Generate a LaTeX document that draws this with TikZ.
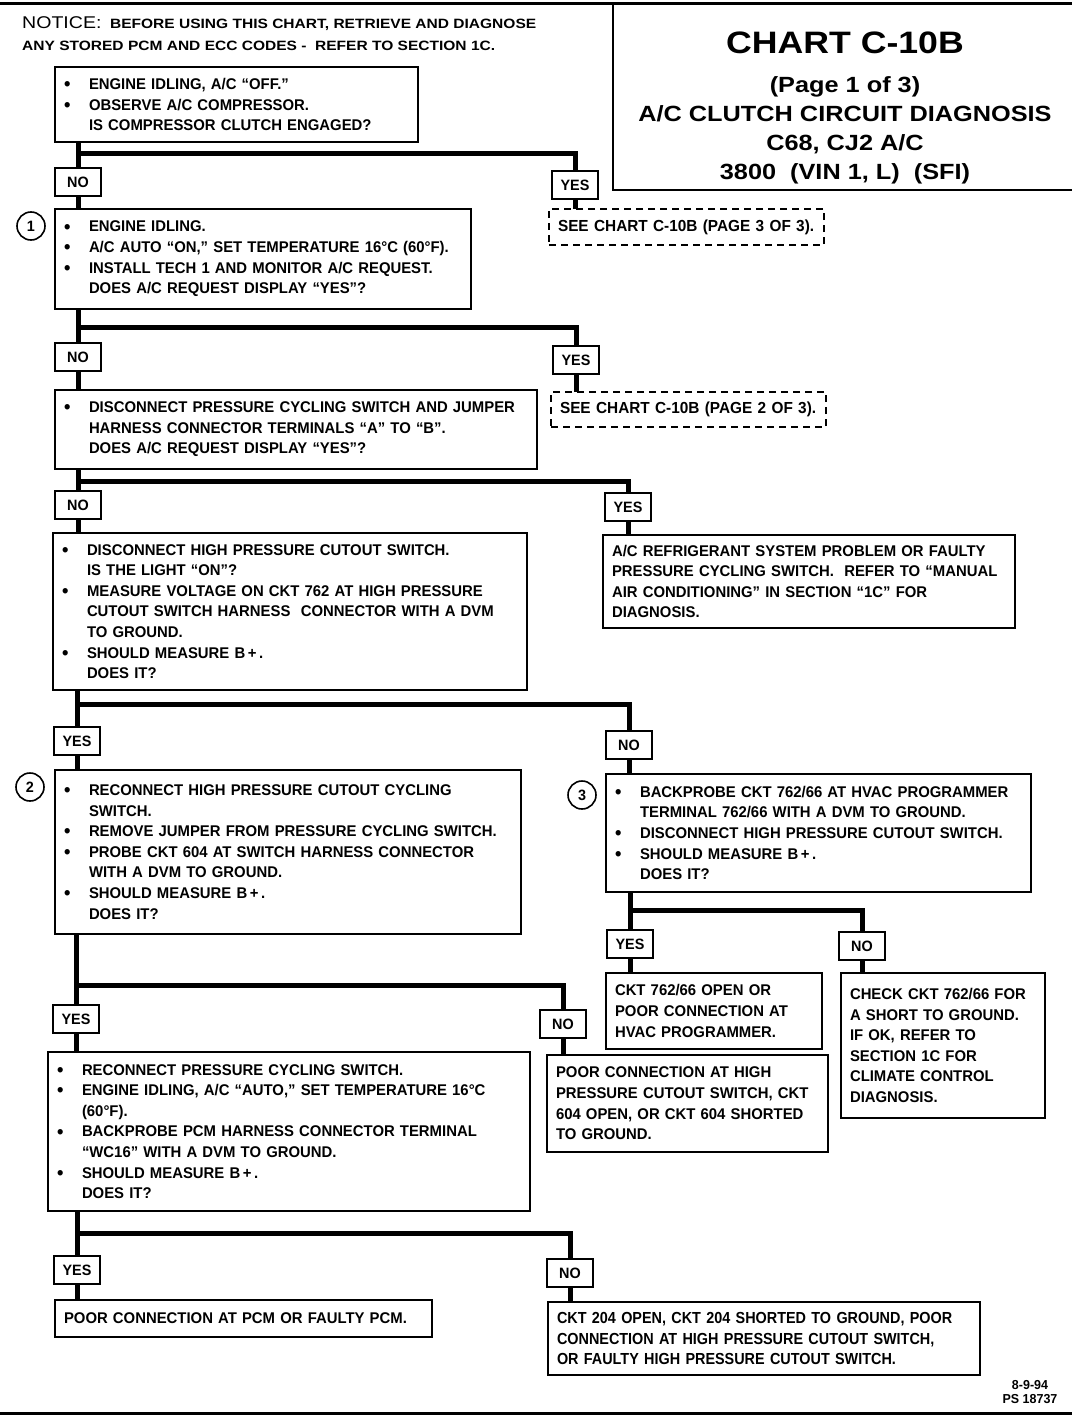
\documentclass[tikz,border=0pt]{standalone}
\usepackage{fontspec}
\setmainfont{Liberation Sans}[FakeStretch=0.96]
\newfontfamily\titlefont{Liberation Sans}[FakeStretch=1.15]
\newfontfamily\narrowfont{Liberation Sans}[FakeStretch=0.9]
\usetikzlibrary{positioning}

\newcommand{\bul}{\makebox[25pt][l]{\smash{\raisebox{-1.2pt}{\fontsize{19}{19}\selectfont\textbullet}}}}
\newcommand{\ind}{\hspace*{25pt}}

\begin{document}
\begin{tikzpicture}[x=1pt, y=-1pt, font=\bfseries\fontsize{15.5}{20.6}\selectfont,
    box/.style={draw, line width=1.8pt, anchor=north west, align=left,
      inner xsep=9pt, inner ysep=0pt, outer sep=0pt},
    dbox/.style={box, dash pattern=on 7pt off 5pt, font=\bfseries\fontsize{16}{17}\selectfont},
    lbl/.style={draw, line width=1.8pt, minimum width=46pt, minimum height=28pt,
      inner sep=0pt, outer sep=0pt, font=\bfseries\fontsize{15}{16}\selectfont},
    num/.style={draw, circle, line width=1.6pt, minimum size=28pt, inner sep=0pt,
      font=\bfseries\fontsize{15}{16}\selectfont},
    conn/.style={line width=5pt}]
  \useasboundingbox (0,0) rectangle (1072,1424);

  % frame and title block
  \draw[line width=3pt] (0,3) -- (1072,3);
  \draw[line width=3pt] (0,1413) -- (1072,1413);
  \draw[line width=1.8pt] (613,3) -- (613,190) -- (1072,190);
  \node[font=\titlefont\bfseries\fontsize{31}{34}\selectfont] (chart) at (845,43) {CHART C-10B};
  \node[font=\titlefont\bfseries\fontsize{22}{29}\selectfont, align=center] (sub) at (845,130)
    {(Page 1 of 3)\\A/C CLUTCH CIRCUIT DIAGNOSIS\\C68, CJ2 A/C\\3800\ \ (VIN 1, L)\ \ (SFI)};
  \node[anchor=west, inner sep=0pt, font=\titlefont\bfseries\fontsize{13.5}{16}\selectfont] (notice) at (22,24)
    {{\mdseries\fontsize{17}{20}\selectfont NOTICE:}\ \ BEFORE USING THIS CHART, RETRIEVE AND DIAGNOSE};
  \node[anchor=west, inner sep=0pt, font=\titlefont\bfseries\fontsize{13.5}{16}\selectfont] (notice2) at (22,46)
    {ANY STORED PCM AND ECC CODES -\ \ REFER TO SECTION 1C.};

  % question boxes
  \node[box, text width=345pt, minimum height=75pt] (b1) at (55,67)
    {\bul ENGINE IDLING, A/C ``OFF.''\\
     \bul OBSERVE A/C COMPRESSOR.\\
     \ind IS COMPRESSOR CLUTCH ENGAGED?};
  \node[box, text width=398pt, minimum height=100pt] (b2) at (55,209)
    {\bul ENGINE IDLING.\\
     \bul A/C AUTO ``ON,'' SET TEMPERATURE 16°C (60°F).\\
     \bul INSTALL TECH 1 AND MONITOR A/C REQUEST.\\
     \ind DOES A/C REQUEST DISPLAY ``YES''?};
  \node[box, text width=464pt, minimum height=79pt] (b3) at (55,390)
    {\bul DISCONNECT PRESSURE CYCLING SWITCH AND JUMPER\\
     \ind HARNESS CONNECTOR TERMINALS ``A'' TO ``B''.\\
     \ind DOES A/C REQUEST DISPLAY ``YES''?};
  \node[box, text width=456pt, minimum height=157pt] (b4) at (53,533)
    {\bul DISCONNECT HIGH PRESSURE CUTOUT SWITCH.\\
     \ind IS THE LIGHT ``ON''?\\
     \bul MEASURE VOLTAGE ON CKT 762 AT HIGH PRESSURE\\
     \ind CUTOUT SWITCH HARNESS\ \ CONNECTOR WITH A DVM\\
     \ind TO GROUND.\\
     \bul SHOULD MEASURE B\,+\,.\\
     \ind DOES IT?};
  \node[box, text width=448pt, minimum height=164pt] (b5) at (55,770)
    {\bul RECONNECT HIGH PRESSURE CUTOUT CYCLING\\
     \ind SWITCH.\\
     \bul REMOVE JUMPER FROM PRESSURE CYCLING SWITCH.\\
     \bul PROBE CKT 604 AT SWITCH HARNESS CONNECTOR\\
     \ind WITH A DVM TO GROUND.\\
     \bul SHOULD MEASURE B\,+\,.\\
     \ind DOES IT?};
  \node[box, text width=407pt, minimum height=118pt] (b6) at (606,774)
    {\bul BACKPROBE CKT 762/66 AT HVAC PROGRAMMER\\
     \ind TERMINAL 762/66 WITH A DVM TO GROUND.\\
     \bul DISCONNECT HIGH PRESSURE CUTOUT SWITCH.\\
     \bul SHOULD MEASURE B\,+\,.\\
     \ind DOES IT?};
  \node[box, text width=464pt, minimum height=159pt] (b7) at (48,1052)
    {\bul RECONNECT PRESSURE CYCLING SWITCH.\\
     \bul ENGINE IDLING, A/C ``AUTO,'' SET TEMPERATURE 16°C\\
     \ind (60°F).\\
     \bul BACKPROBE PCM HARNESS CONNECTOR TERMINAL\\
     \ind ``WC16'' WITH A DVM TO GROUND.\\
     \bul SHOULD MEASURE B\,+\,.\\
     \ind DOES IT?};

  % result boxes
  \node[dbox, text width=257pt, minimum height=36pt] (see3) at (549,209)
    {SEE CHART C-10B (PAGE 3 OF 3).};
  \node[dbox, text width=257pt, minimum height=35pt] (see2) at (551,392)
    {SEE CHART C-10B (PAGE 2 OF 3).};
  \node[box, text width=394pt, minimum height=93pt] (r3) at (603,535)
    {A/C REFRIGERANT SYSTEM PROBLEM OR FAULTY\\
     PRESSURE CYCLING SWITCH.\ \ REFER TO ``MANUAL\\
     AIR CONDITIONING'' IN SECTION ``1C'' FOR\\
     DIAGNOSIS.};
  \node[box, text width=198pt, minimum height=76pt] (r6y) at (606,973)
    {CKT 762/66 OPEN OR\\POOR CONNECTION AT\\HVAC PROGRAMMER.};
  \node[box, text width=186pt, minimum height=145pt] (r6n) at (841,973)
    {CHECK CKT 762/66 FOR\\A SHORT TO GROUND.\\IF OK, REFER TO\\SECTION 1C FOR\\CLIMATE CONTROL\\DIAGNOSIS.};
  \node[box, text width=263pt, minimum height=97pt] (r5n) at (547,1055)
    {POOR CONNECTION AT HIGH\\PRESSURE CUTOUT SWITCH, CKT\\604 OPEN, OR CKT 604 SHORTED\\TO GROUND.};
  \node[box, text width=359pt, minimum height=37pt] (r7y) at (55,1300)
    {POOR CONNECTION AT PCM OR FAULTY PCM.};
  \node[box, text width=414pt, minimum height=73pt, font=\narrowfont\bfseries\fontsize{16}{20.6}\selectfont] (r7n) at (548,1302)
    {CKT 204 OPEN, CKT 204 SHORTED TO GROUND, POOR\\
     CONNECTION AT HIGH PRESSURE CUTOUT SWITCH,\\
     OR FAULTY HIGH PRESSURE CUTOUT SWITCH.};

  % step numbers
  \node[num] (n1) at (31,226) {1};
  \node[num] (n2) at (30,787) {2};
  \node[num] (n3) at (582,795) {3};

  % yes / no labels
  \node[lbl] (no1)  at (78,182)  {NO};
  \node[lbl] (yes1) at (575,185) {YES};
  \node[lbl] (no2)  at (78,357)  {NO};
  \node[lbl] (yes2) at (576,360) {YES};
  \node[lbl] (no3)  at (78,505)  {NO};
  \node[lbl] (yes3) at (628,507) {YES};
  \node[lbl] (yes4) at (77,741)  {YES};
  \node[lbl] (no4)  at (629,745) {NO};
  \node[lbl] (yes5) at (76,1019) {YES};
  \node[lbl] (no5)  at (563,1024) {NO};
  \node[lbl] (yes6) at (630,944) {YES};
  \node[lbl] (no6)  at (862,946) {NO};
  \node[lbl] (yes7) at (77,1270) {YES};
  \node[lbl] (no7)  at (570,1273) {NO};

  % branch points
  \coordinate (j1) at (78,153);
  \coordinate (j2) at (78,327);
  \coordinate (j3) at (78,481);
  \coordinate (j4) at (77,704);
  \coordinate (j5) at (76,985);
  \coordinate (j6) at (630,910);
  \coordinate (j7) at (77,1233);

  % connectors
  \draw[conn] (b1.south -| no1) -- (no1.north);
  \draw[conn] (j1) -| (yes1.north);
  \draw[conn] (no1.south) -- (no1.south |- b2.north);
  \draw[conn] (yes1.south) -- (yes1.south |- see3.north);

  \draw[conn] (b2.south -| no2) -- (no2.north);
  \draw[conn] (j2) -| (yes2.north);
  \draw[conn] (no2.south) -- (no2.south |- b3.north);
  \draw[conn] (yes2.south) -- (yes2.south |- see2.north);

  \draw[conn] (b3.south -| no3) -- (no3.north);
  \draw[conn] (j3) -| (yes3.north);
  \draw[conn] (no3.south) -- (no3.south |- b4.north);
  \draw[conn] (yes3.south) -- (yes3.south |- r3.north);

  \draw[conn] (b4.south -| yes4) -- (yes4.north);
  \draw[conn] (j4) -| (no4.north);
  \draw[conn] (yes4.south) -- (yes4.south |- b5.north);
  \draw[conn] (no4.south) -- (no4.south |- b6.north);

  \draw[conn] (b5.south -| yes5) -- (yes5.north);
  \draw[conn] (j5) -| (no5.north);
  \draw[conn] (yes5.south) -- (yes5.south |- b7.north);
  \draw[conn] (no5.south) -- (no5.south |- r5n.north);

  \draw[conn] (b6.south -| yes6) -- (yes6.north);
  \draw[conn] (j6) -| (no6.north);
  \draw[conn] (yes6.south) -- (yes6.south |- r6y.north);
  \draw[conn] (no6.south) -- (no6.south |- r6n.north);

  \draw[conn] (b7.south -| yes7) -- (yes7.north);
  \draw[conn] (j7) -| (no7.north);
  \draw[conn] (yes7.south) -- (yes7.south |- r7y.north);
  \draw[conn] (no7.south) -- (no7.south |- r7n.north);

  \node[align=center, font=\bfseries\fontsize{13}{14}\selectfont] (date) at (1030,1392) {8-9-94\\PS 18737};
\end{tikzpicture}
\end{document}
